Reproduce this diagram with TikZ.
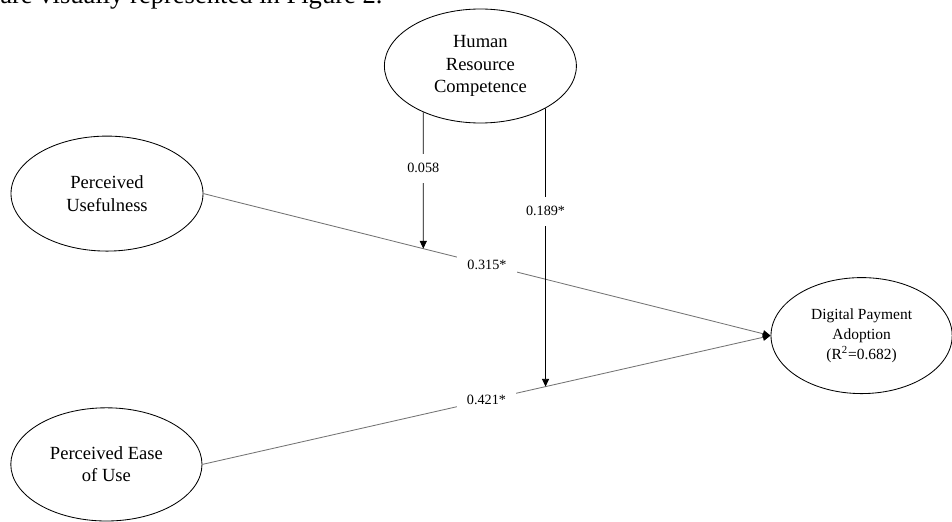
\documentclass[tikz,border=0pt]{standalone}
\usepackage{fontspec}
\setmainfont{Liberation Serif}
\usetikzlibrary{shapes.geometric,arrows.meta}

\tikzset{
  construct/.style={draw, ellipse, inner sep=0pt, align=center, line width=0.6pt,
    font=\fontsize{13.2}{16}\selectfont},
  coef/.style={fill=white, inner xsep=7.4pt, inner ysep=6.9pt,
    font=\fontsize{10.1}{12}\selectfont},
  effect/.style={draw=black!55, line width=0.6pt,
    -{Triangle[length=5.5pt, width=5pt, color=black]}},
  moderate/.style={draw=black, line width=0.6pt, -{Triangle[length=5.5pt, width=5pt]}}
}

\begin{document}
\begin{tikzpicture}
       % \draw[help lines] (0, 0) grid (23.8, -13.05);
       \useasboundingbox (0, 0) rectangle (23.8, -13.05);
       \clip (0, 0) rectangle (23.8, -13.05);
       \node [anchor=base west, inner sep=0pt, font=\fontsize{18.9}{22}\selectfont] (intro) at (0, -0.1) {are visually represented in Figure 2.};

       \node [construct, minimum width=4.8cm, minimum height=2.85cm] (hrc) at (12.01, -1.65) {Human\\Resource\\Competence};
       \node [construct, minimum width=4.8cm, minimum height=2.875cm] (pu) at (2.675, -4.84) {Perceived\\Usefulness};
       \node [construct, minimum width=4.78cm, minimum height=2.83cm] (peu) at (2.66, -11.61) {Perceived Ease\\of Use};
       \node [construct, minimum width=4.53cm, minimum height=2.9cm, font=\fontsize{11}{14.2}\selectfont] (dpa) at (21.54, -8.39) {Digital Payment\\Adoption\\(R\textsuperscript{2}=0.682)};

       \coordinate (h1) at (hrc.219 |- peu.south);
       \coordinate (h2) at (hrc.327 |- peu.south);

       \draw [effect] (pu.east) -- node [coef] {0.315*} (dpa.west);
       \draw [effect] (peu.east) -- node [coef] {0.421*} (dpa.west);
       \draw [moderate] (hrc.219) -- node [coef, pos=0.41] {0.058} (intersection of pu.east--dpa.west and hrc.219--h1);
       \draw [moderate] (hrc.327) -- node [coef, pos=0.37] {0.189*} (intersection of peu.east--dpa.west and hrc.327--h2);
\end{tikzpicture}
\end{document}
